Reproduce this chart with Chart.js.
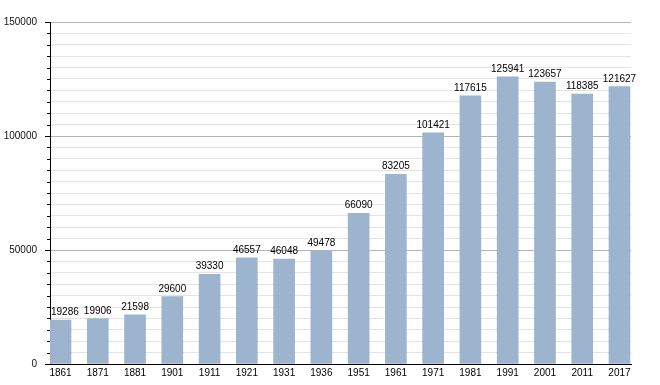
<!DOCTYPE html>
<html>
<head>
<meta charset="utf-8">
<script src="https://cdn.jsdelivr.net/npm/chart.js@4/dist/chart.umd.min.js"></script>
<style>
	html, body { margin: 0; padding: 0; background: #fff; }
	#wrap { width: 660px; height: 385px; }
</style>
</head>
<body>
<div id="wrap"><canvas id="population-chart"></canvas></div>
<script>
const years = ['1861', '1871', '1881', '1901', '1911', '1921', '1931', '1936', '1951', '1961', '1971', '1981', '1991', '2001', '2011', '2017'];
const population = [19286, 19906, 21598, 29600, 39330, 46557, 46048, 49478, 66090, 83205, 101421, 117615, 125941, 123657, 118385, 121627];
const yMax = 150000;
const yStep = 5000;
const yLabelStep = 50000;

const barColor = '#9cb4cd';
const majorGrid = '#b4b4b4';
const minorGrid = '#e4e4e4';
const fontFamily = '"Liberation Sans", Arial, sans-serif';

// short ticks for minor steps, longer ones on labelled values
const axisTicks = {
	id: 'axisTicks',
	afterDraw(chart) {
		const { ctx, scales: { y }, chartArea } = chart;
		ctx.save();
		ctx.strokeStyle = '#000';
		ctx.lineWidth = 1;
		y.ticks.forEach(tick => {
			const py = Math.round(y.getPixelForValue(tick.value)) + 0.5;
			const len = tick.value % yLabelStep === 0 ? 5 : 3;
			ctx.beginPath();
			ctx.moveTo(chartArea.left - len, py);
			ctx.lineTo(chartArea.left, py);
			ctx.stroke();
		});
		ctx.restore();
	}
};

// value above each bar, kept right of the y axis
const barValues = {
	id: 'barValues',
	afterDatasetsDraw(chart) {
		const { ctx, chartArea } = chart;
		const meta = chart.getDatasetMeta(0);
		ctx.save();
		ctx.font = '10px ' + fontFamily;
		ctx.fillStyle = '#000';
		ctx.textAlign = 'center';
		ctx.textBaseline = 'alphabetic';
		meta.data.forEach((bar, i) => {
			const text = String(population[i]);
			const half = ctx.measureText(text).width / 2;
			const x = Math.max(bar.x, chartArea.left + half + 1);
			ctx.fillText(text, x, bar.y - 5);
		});
		ctx.restore();
	}
};

Chart.defaults.font.family = fontFamily;
Chart.defaults.font.size = 10;
Chart.defaults.color = '#000';

new Chart(document.querySelector('#population-chart'), {
	type: 'bar',
	data: {
		datasets: [{
			data: population.map((v, i) => ({ x: i, y: v })),
			backgroundColor: barColor,
			borderWidth: 0,
			barThickness: 21
		}]
	},
	options: {
		responsive: true,
		maintainAspectRatio: false,
		animation: false,
		layout: { padding: { top: 22, right: 29, left: 0, bottom: 0 } },
		plugins: {
			legend: { display: false },
			tooltip: { enabled: false }
		},
		scales: {
			x: {
				type: 'linear',
				offset: false,
				min: -0.282,
				max: 15.309,
				grid: { display: false, drawTicks: false, offset: false },
				border: { color: '#000', width: 1 },
				afterBuildTicks: scale => {
					scale.ticks = years.map((_, i) => ({ value: i }));
				},
				afterFit: scale => { scale.height = 21; },
				ticks: {
					padding: 3,
					autoSkip: false,
					maxRotation: 0,
					callback: value => years[value] ?? ''
				}
			},
			y: {
				min: 0,
				max: yMax,
				afterFit: scale => { scale.width = 50; },
				border: { color: '#000', width: 1 },
				grid: {
					color: ctx => (ctx.tick && ctx.tick.value % yLabelStep === 0 ? majorGrid : minorGrid),
					drawTicks: true,
					tickLength: 5,
					tickColor: 'rgba(0,0,0,0)'
				},
				ticks: {
					stepSize: yStep,
					padding: 8,
					autoSkip: false,
					color: '#111',
					callback: value => (value % yLabelStep === 0 ? String(value) : '')
				}
			}
		}
	},
	plugins: [axisTicks, barValues]
});
</script>
</body>
</html>
